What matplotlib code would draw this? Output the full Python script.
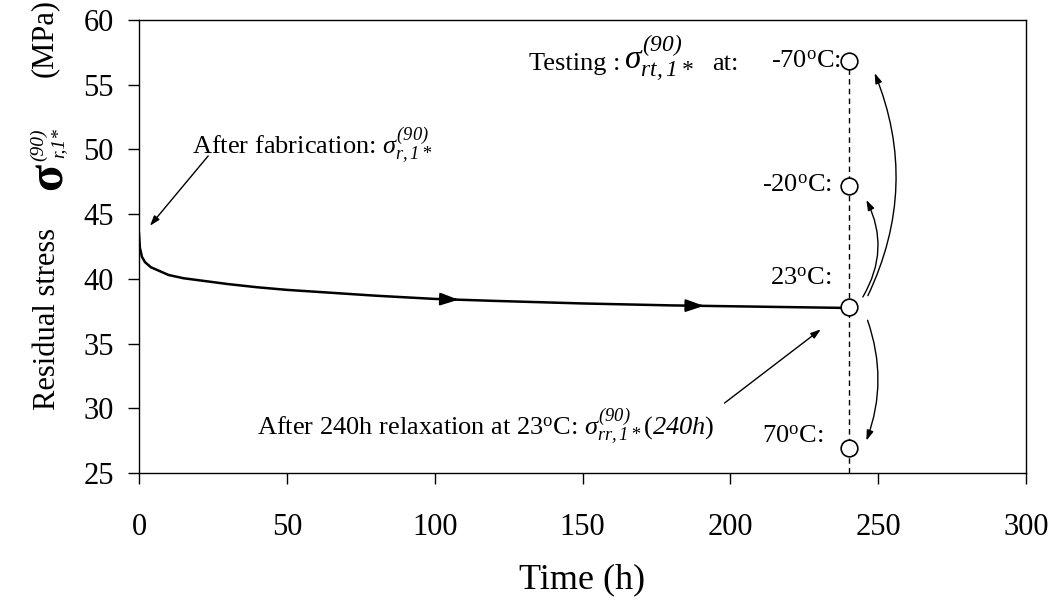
import numpy as np
import matplotlib
matplotlib.use("Agg")
import matplotlib.pyplot as plt

plt.rcParams["font.family"] = ["Liberation Serif", "DejaVu Serif"]
plt.rcParams["mathtext.fontset"] = "custom"
plt.rcParams["mathtext.rm"] = "Liberation Serif"
plt.rcParams["mathtext.it"] = "Liberation Serif:italic"
plt.rcParams["mathtext.bf"] = "Liberation Serif:bold"
# sf slot used for italic digits / brackets
plt.rcParams["mathtext.sf"] = "Liberation Serif:italic"

# relaxation curve at 23 C
time_h = [0, 0.3, 1, 2, 4, 7, 10, 15, 20, 30, 40, 50, 60, 80, 100, 120, 150, 180, 210, 240]
stress = [43.5, 42.4, 41.7, 41.3, 40.9, 40.6, 40.3, 40.05, 39.9, 39.6, 39.35, 39.15, 39.0, 38.7,
          38.45, 38.3, 38.1, 37.95, 37.85, 37.75]
flow_arrow_t = [109, 192]

# testing temperatures after 240 h
test_time = 240
test_labels = ["-70$^{\\rm o}$C:", "-20$^{\\rm o}$C:", "23$^{\\rm o}$C:", "70$^{\\rm o}$C:"]
test_stress = [56.8, 47.2, 37.8, 26.9]

sig90 = "\\sigma^{\\mathsf{(90)}}"

W, H = 1053, 603
fig, ax = plt.subplots(figsize=(W / 100, H / 100), dpi=100)
fig.subplots_adjust(left=0.132, right=0.9744, bottom=0.2156, top=0.9668)

ax.plot(time_h, stress, color="black", lw=1.8)
for t in flow_arrow_t:
    y = np.interp(t, time_h, stress)
    y0 = np.interp(t - 3, time_h, stress)
    ax.annotate("", xy=(t, y), xytext=(t - 3, y0),
                arrowprops=dict(arrowstyle="-|>,head_length=1.1,head_width=0.38", color="black", lw=1.5))

ax.vlines(test_time, 25, test_stress[0], colors="black", linestyles=(0, (4, 3)), lw=1)
ax.plot([test_time] * 4, test_stress, "o", ms=12, mfc="white", mec="black", mew=1.2, zorder=5)
label_x = [237.5, 234.5, 234, 231.5]
label_dy = [0, 0, 2.2, 0.9]
for lab, s, lx, dy in zip(test_labels, test_stress, label_x, label_dy):
    ax.text(lx, s + dy, lab, ha="right", va="center", fontsize=19)

ax.text(132, 56.1, "Testing :", ha="left", va="baseline", fontsize=19)
ax.text(164, 56.1, "$" + sig90 + "_{\\mathsf{rt,1*}}$", ha="left", va="baseline", fontsize=24)
ax.text(194, 56.1, "at:", ha="left", va="baseline", fontsize=19)

# curved arrows between testing states
arr = dict(arrowstyle="-|>,head_length=0.6,head_width=0.2", color="black", lw=1, shrinkA=0, shrinkB=0)
ax.annotate("", xy=(246, 46.1), xytext=(244.8, 38.6),
            arrowprops=dict(connectionstyle="arc3,rad=0.27", **arr))
ax.annotate("", xy=(248.8, 55.9), xytext=(246.5, 38.7),
            arrowprops=dict(connectionstyle="arc3,rad=0.22", **arr))
ax.annotate("", xy=(246, 27.5), xytext=(246.4, 36.8),
            arrowprops=dict(connectionstyle="arc3,rad=-0.18", **arr))

ax.text(18, 50.3, "After fabrication: $" + sig90 + "_{\\mathsf{r,1*}}$", ha="left", va="center", fontsize=19)
ax.annotate("", xy=(3.7, 44.1), xytext=(23.4, 49.5), arrowprops=arr)
ax.text(40, 28.6, "After 240h relaxation at 23$^{\\rm o}$C: $" + sig90 + "_{\\mathsf{rr,1*}}(\\mathsf{240h})$",
        ha="left", va="center", fontsize=19)
ax.annotate("", xy=(230.6, 36.1), xytext=(198, 30.4), arrowprops=arr)

ax.set_xlim(0, 300)
ax.set_ylim(25, 60)
ax.set_xticks(range(0, 301, 50))
ax.set_yticks(range(25, 61, 5))
ax.tick_params(direction="out", length=8, width=1, labelsize=22)
ax.tick_params(axis="x", pad=21)
ax.tick_params(axis="y", pad=10)
for s in ax.spines.values():
    s.set_linewidth(1)
ax.set_xlabel("Time (h)", fontsize=26)
ax.xaxis.set_label_coords(0.5, -0.236)
ax.xaxis.label.set_va("center")

# y label built from pieces so the sigma can be larger than the words
ylab = [
    ("Residual stress", 55, 410, 22, "normal", "normal"),
    ("\u03c3", 62, 190, 36, "bold", "normal"),
    ("(90)", 43, 161, 14, "normal", "italic"),
    ("r,1*", 63, 158, 14, "normal", "italic"),
    ("(MPa)", 52, 77, 22, "normal", "normal"),
]
for txt, px, py, fs, fw, fst in ylab:
    fig.text(px / W, 1 - py / H, txt, rotation=90, rotation_mode="anchor", ha="left", va="baseline",
             fontsize=fs, fontweight=fw, fontstyle=fst)

plt.savefig("out.png", dpi=100)
